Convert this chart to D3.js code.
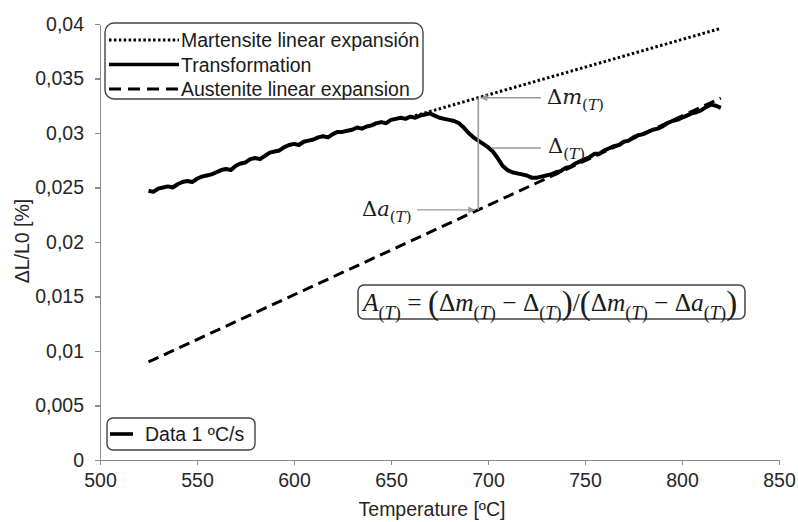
<!DOCTYPE html>
<html lang="en">
<head>
    <meta charset="UTF-8">
    <title>Dilatometry transformation</title>
    <script src="https://d3js.org/d3.v7.min.js"></script>
    <style>
        body { margin: 0; background: #fff; font-family: "Liberation Sans", Arial, sans-serif; }
        .axis text { font-size: 19.5px; fill: #262626; font-family: "Liberation Sans", Arial, sans-serif; }
        .axis path, .axis line { stroke: #8c8c8c; stroke-width: 1.2; shape-rendering: crispEdges; }
        .math { white-space: pre; }
    </style>
</head>
<body>
    <svg width="798" height="522"></svg>
    <script>
        // tick values and labels
        const xTicks = [500, 550, 600, 650, 700, 750, 800, 850];
        const yTicks = [0, 0.005, 0.01, 0.015, 0.02, 0.025, 0.03, 0.035, 0.04];
        const yTickLabels = ["0", "0,005", "0,01", "0,015", "0,02", "0,025", "0,03", "0,035", "0,04"];

        const temps = [525, 527.5, 530, 532.5, 535, 537.5, 540, 542.5, 545, 547.5,
            550, 552.5, 555, 557.5, 560, 562.5, 565, 567.5, 570, 572.5,
            575, 577.5, 580, 582.5, 585, 587.5, 590, 592.5, 595, 597.5,
            600, 602.5, 605, 607.5, 610, 612.5, 615, 617.5, 620, 622.5,
            625, 627.5, 630, 632.5, 635, 637.5, 640, 642.5, 645, 647.5,
            650, 652.5, 655, 657.5, 660, 662.5, 665, 667.5, 670, 672.5,
            675, 677.5, 680, 682.5, 685, 687.5, 690, 692.5, 695, 697.5,
            700, 702.5, 705, 707.5, 710, 712.5, 715, 717.5, 720, 722.5,
            725, 727.5, 730, 732.5, 735, 737.5, 740, 742.5, 745, 747.5,
            750, 752.5, 755, 757.5, 760, 762.5, 765, 767.5, 770, 772.5,
            775, 777.5, 780, 782.5, 785, 787.5, 790, 792.5, 795, 797.5,
            800, 802.5, 805, 807.5, 810, 812.5, 815, 817.5, 820];
        const strain = [0.02470, 0.02460, 0.02490, 0.02500, 0.02510, 0.02500, 0.02530, 0.02550, 0.02560, 0.02550,
            0.02580, 0.02600, 0.02610, 0.02620, 0.02640, 0.02660, 0.02670, 0.02660, 0.02700, 0.02720,
            0.02730, 0.02760, 0.02770, 0.02760, 0.02790, 0.02820, 0.02830, 0.02840, 0.02870, 0.02890,
            0.02900, 0.02890, 0.02920, 0.02930, 0.02940, 0.02960, 0.02970, 0.02960, 0.02990, 0.03010,
            0.03010, 0.03020, 0.03030, 0.03050, 0.03040, 0.03060, 0.03070, 0.03090, 0.03100, 0.03090,
            0.03120, 0.03130, 0.03140, 0.03130, 0.03150, 0.03140, 0.03160, 0.03170, 0.03180, 0.03160,
            0.03140, 0.03130, 0.03120, 0.03110, 0.03090, 0.03050, 0.03000, 0.02960, 0.02930, 0.02900,
            0.02870, 0.02830, 0.02770, 0.02700, 0.02660, 0.02640, 0.02630, 0.02620, 0.02610, 0.02590,
            0.02590, 0.02600, 0.02610, 0.02620, 0.02640, 0.02650, 0.02680, 0.02690, 0.02720, 0.02740,
            0.02760, 0.02780, 0.02810, 0.02810, 0.02840, 0.02860, 0.02880, 0.02890, 0.02920, 0.02930,
            0.02960, 0.02980, 0.02990, 0.03010, 0.03030, 0.03040, 0.03060, 0.03090, 0.03110, 0.03120,
            0.03140, 0.03160, 0.03180, 0.03190, 0.03210, 0.03240, 0.03260, 0.03250, 0.03230];

        // linear expansion fits
        const martT = [660, 820];
        const martV = [0.03146, 0.03960];
        const austT = [525, 820];
        const austV = [0.00900, 0.03320];

        // annotation temperature
        const annT = 695;

        const svg = d3.select("svg");

        const x = d3.scaleLinear().domain([500, 850]).range([100, 779]);
        const y = d3.scaleLinear().domain([0, 0.04]).range([460, 24]);

        svg.append("g")
            .attr("class", "axis")
            .attr("transform", `translate(0,${y(0)})`)
            .call(d3.axisBottom(x).tickValues(xTicks).tickSize(5).tickSizeOuter(0).tickPadding(8));

        svg.append("g")
            .attr("class", "axis")
            .attr("transform", `translate(${x(500)},0)`)
            .call(d3.axisLeft(y).tickValues(yTicks).tickFormat((d, i) => yTickLabels[i]).tickSize(5).tickSizeOuter(0).tickPadding(11));

        svg.append("text")
            .attr("x", 432).attr("y", 516)
            .attr("text-anchor", "middle")
            .attr("font-size", 19.5).attr("fill", "#262626")
            .text("Temperature [ºC]");

        svg.append("text")
            .attr("transform", "translate(29,241) rotate(-90)")
            .attr("text-anchor", "middle")
            .attr("font-size", 19.5).attr("fill", "#262626")
            .text("ΔL/L0 [%]");

        const line = d3.line().x(d => x(d[0])).y(d => y(d[1]));

        // austenite dashed
        svg.append("path")
            .datum(d3.zip(austT, austV))
            .attr("d", line)
            .attr("fill", "none").attr("stroke", "#000")
            .attr("stroke-width", 3).attr("stroke-dasharray", "11,6");

        // martensite dotted
        svg.append("path")
            .datum(d3.zip(martT, martV))
            .attr("d", line)
            .attr("fill", "none").attr("stroke", "#000")
            .attr("stroke-width", 3).attr("stroke-dasharray", "2.5,2.4");

        // transformation curve
        svg.append("path")
            .datum(d3.zip(temps, strain))
            .attr("d", line)
            .attr("fill", "none").attr("stroke", "#000")
            .attr("stroke-width", 4).attr("stroke-linejoin", "round");

        // annotations
        const gray = "#9a9a9a";
        const defs = svg.append("defs");
        defs.append("marker")
            .attr("id", "arr")
            .attr("viewBox", "0 0 10 10")
            .attr("refX", 10).attr("refY", 5)
            .attr("markerWidth", 8).attr("markerHeight", 7)
            .attr("markerUnits", "userSpaceOnUse")
            .attr("orient", "auto")
            .append("path").attr("d", "M0,0L10,5L0,10Z").attr("fill", gray);

        const mAt = t => martV[0] + (t - martT[0]) * (martV[1] - martV[0]) / (martT[1] - martT[0]);
        const aAt = t => austV[0] + (t - austT[0]) * (austV[1] - austV[0]) / (austT[1] - austT[0]);
        const dAt = 0.02862;

        const xa = x(annT);
        svg.append("line")
            .attr("x1", xa).attr("x2", xa)
            .attr("y1", y(mAt(annT))).attr("y2", y(aAt(annT)))
            .attr("stroke", gray).attr("stroke-width", 1.6);

        svg.append("line")
            .attr("x1", 541).attr("x2", xa + 2)
            .attr("y1", y(mAt(annT))).attr("y2", y(mAt(annT)))
            .attr("stroke", gray).attr("stroke-width", 1.4).attr("marker-end", "url(#arr)");

        svg.append("line")
            .attr("x1", 492).attr("x2", 541)
            .attr("y1", y(dAt)).attr("y2", y(dAt))
            .attr("stroke", gray).attr("stroke-width", 1.4);

        svg.append("line")
            .attr("x1", 417).attr("x2", xa - 3)
            .attr("y1", y(aAt(annT))).attr("y2", y(aAt(annT)))
            .attr("stroke", gray).attr("stroke-width", 1.4).attr("marker-end", "url(#arr)");

        function mathText(sel, px, py, size, parts, family) {
            const t = sel.append("text")
                .attr("class", "math")
                .attr("x", px).attr("y", py)
                .attr("font-family", family || "'DejaVu Serif', serif")
                .attr("font-size", size).attr("fill", "#1a1a1a");
            let off = 0;
            parts.forEach(p => {
                const target = p.sub ? size * 0.3 : (p.big ? size * 0.1 : 0);
                const ts = t.append("tspan").text(p.t).attr("dy", target - off);
                off = target;
                if (p.it) ts.attr("font-style", "italic");
                if (p.sub) ts.attr("font-size", size * 0.72);
                if (p.big) ts.attr("font-size", size * 1.3);
            });
            return t;
        }
        const sub = [{ t: "(", sub: 1 }, { t: "T", sub: 1, it: 1 }, { t: ")", sub: 1 }];
        const dm = [{ t: "Δ" }, { t: "m", it: 1 }].concat(sub);
        const dd = [{ t: "Δ" }].concat(sub);
        const da = [{ t: "Δ" }, { t: "a", it: 1 }].concat(sub);

        mathText(svg, 547, 104, 21, dm);
        mathText(svg, 548, 153, 21, dd);
        mathText(svg, 362, 216, 21, da);

        // formula box
        svg.append("rect")
            .attr("x", 358).attr("y", 285).attr("width", 387).attr("height", 34).attr("rx", 6)
            .attr("fill", "#fff").attr("stroke", "#444").attr("stroke-width", 1.5);
        const fg = svg.append("g");
        const formula = mathText(fg, 0, 0, 20,
            [{ t: "A", it: 1 }].concat(sub, [{ t: " = " }, { t: "(", big: 1 }], dm, [{ t: " − " }], dd,
                [{ t: ")", big: 1 }, { t: "/" }, { t: "(", big: 1 }], dm, [{ t: " − " }], da, [{ t: ")", big: 1 }]),
            "'Liberation Serif', serif");
        const fw = formula.node().getBBox().width;
        fg.attr("transform", `translate(363,311) scale(${377 / fw})`);

        // top legend
        svg.append("rect")
            .attr("x", 105).attr("y", 23).attr("width", 318).attr("height", 76).attr("rx", 9)
            .attr("fill", "#fff").attr("stroke", "#444").attr("stroke-width", 1.4);
        const legendItems = ["Martensite linear expansión", "Transformation", "Austenite linear expansion"];
        const legendDash = ["2.5,2.4", null, "12,7"];
        const legendWidth = [3, 3.6, 3.2];
        legendItems.forEach((name, i) => {
            const ly = 40 + i * 24.5;
            svg.append("line")
                .attr("x1", 109).attr("x2", 179).attr("y1", ly).attr("y2", ly)
                .attr("stroke", "#000").attr("stroke-width", legendWidth[i])
                .attr("stroke-dasharray", legendDash[i]);
            svg.append("text")
                .attr("x", 181).attr("y", ly + 7)
                .attr("font-size", 19.5).attr("fill", "#1a1a1a")
                .text(name);
        });

        // bottom legend
        svg.append("rect")
            .attr("x", 107).attr("y", 418).attr("width", 148).attr("height", 32).attr("rx", 6)
            .attr("fill", "#fff").attr("stroke", "#444").attr("stroke-width", 1.4);
        svg.append("line")
            .attr("x1", 110).attr("x2", 133).attr("y1", 434).attr("y2", 434)
            .attr("stroke", "#000").attr("stroke-width", 3.6);
        svg.append("text")
            .attr("x", 145).attr("y", 441)
            .attr("font-size", 19.5).attr("fill", "#1a1a1a")
            .text("Data 1 ºC/s");
    </script>
</body>
</html>
